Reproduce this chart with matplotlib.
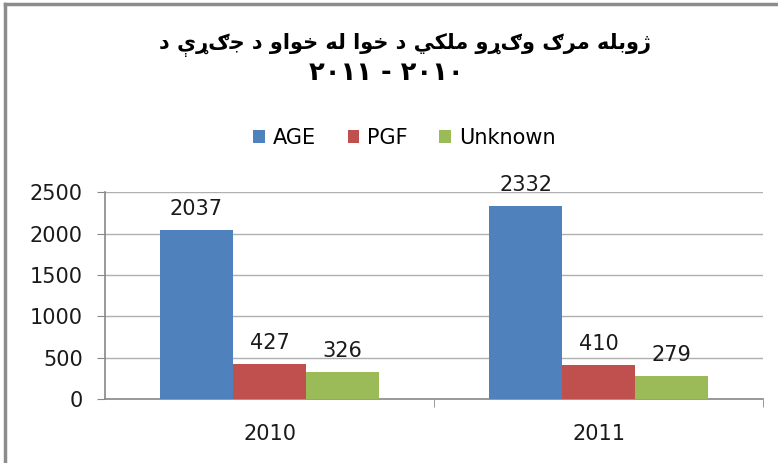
import numpy as np
import matplotlib.pyplot as plt
from matplotlib.lines import Line2D

years = ['2010', '2011']
series = ['AGE', 'PGF', 'Unknown']
age = [2037, 2332]
pgf = [427, 410]
unknown = [326, 279]
colors = ['#4F81BD', '#C0504D', '#9BBB59']

title_line1 = 'د جګړې د خواو له خوا د ملکي وګړو مرګ ژوبله'
title_line2 = '۲۰۱۱ - ۲۰۱۰'  # already in visual order

# matplotlib has no arabic shaping, so pick presentation forms by hand
# (iso, final, initial, medial); two-entry tuples only join to the right
FORMS = {
    'ا': ('\uFE8D', '\uFE8E'),
    'ب': ('\uFE8F', '\uFE90', '\uFE91', '\uFE92'),
    'ج': ('\uFE9D', '\uFE9E', '\uFE9F', '\uFEA0'),
    'خ': ('\uFEA5', '\uFEA6', '\uFEA7', '\uFEA8'),
    'د': ('\uFEA9', '\uFEAA'),
    'ر': ('\uFEAD', '\uFEAE'),
    'ژ': ('\uFB8A', '\uFB8B'),
    'ل': ('\uFEDD', '\uFEDE', '\uFEDF', '\uFEE0'),
    'م': ('\uFEE1', '\uFEE2', '\uFEE3', '\uFEE4'),
    'ه': ('\uFEE9', '\uFEEA', '\uFEEB', '\uFEEC'),
    'و': ('\uFEED', '\uFEEE'),
    'ي': ('\uFEF1', '\uFEF2', '\uFEF3', '\uFEF4'),
    'ک': ('\uFB8E', '\uFB8F', '\uFB90', '\uFB91'),
    'ې': ('\uFBE4', '\uFBE5', '\uFBE6', '\uFBE7'),
    'ګ': ('ګ', 'ګ', 'ګ', 'ګ'),
    'ړ': ('ړ', 'ړ'),
}


def shape_word(word):
    out = []
    for i, ch in enumerate(word):
        if ch not in FORMS:
            out.append(ch)
            continue
        prev = word[i - 1] if i > 0 else ''
        nxt = word[i + 1] if i + 1 < len(word) else ''
        join_prev = prev in FORMS and len(FORMS[prev]) == 4
        join_next = len(FORMS[ch]) == 4 and nxt in FORMS
        f = FORMS[ch]
        if join_prev and join_next:
            out.append(f[3])
        elif join_prev:
            out.append(f[1])
        elif join_next:
            out.append(f[2])
        else:
            out.append(f[0])
    return ''.join(out)[::-1]


# the reference title keeps the words left to right, each word itself right to left
def shape(text):
    return ' '.join(shape_word(wd) for wd in text.split(' '))


plt.rcParams['font.family'] = ['DejaVu Sans']
fs = 15

fig = plt.figure(figsize=(7.78, 4.63), dpi=100)
ax = fig.add_axes([0.135, 0.138, 0.846, 0.447])

x = np.arange(len(years))
w = 1 / 4.5
for i, (vals, name) in enumerate(zip([age, pgf, unknown], series)):
    bars = ax.bar(x + (i - 1) * w, vals, w, color=colors[i], label=name, zorder=3)
    for b, v in zip(bars, vals):
        ax.annotate(str(v), (b.get_x() + b.get_width() / 2, v), xytext=(0, 8),
                    textcoords='offset points', ha='center', va='bottom',
                    fontsize=fs, color='#1a1a1a')

ax.set_xlim(-0.5, 1.5)
ax.set_ylim(0, 2500)
ax.set_yticks(np.arange(0, 2501, 500))
ax.set_xticks(x)
ax.set_xticklabels(years)
ax.set_xticks([0.5, 1.5], minor=True)
ax.tick_params(axis='x', which='major', length=0, pad=18, labelsize=fs, labelcolor='#1a1a1a')
ax.tick_params(axis='x', which='minor', length=6, color='#888888')
ax.tick_params(axis='y', length=6, color='#888888', labelsize=fs, labelcolor='#1a1a1a', pad=10)
ax.grid(axis='y', color='#b0b0b0', linewidth=1, zorder=0)
for s in ['top', 'right']:
    ax.spines[s].set_visible(False)
for s in ['left', 'bottom']:
    ax.spines[s].set_color('#888888')
    ax.spines[s].set_linewidth(1.2)

fig.text(0.521, 0.903, shape(title_line1), ha='center', va='center',
         fontsize=15, fontweight='bold')
fig.text(0.497, 0.842, title_line2, ha='center', va='center',
         fontsize=18.5, fontweight='bold')

fig.legend(loc='center', bbox_to_anchor=(0.52, 0.702), ncol=3, frameon=False,
           fontsize=fs, handlelength=0.55, handleheight=0.55, handletextpad=0.4,
           columnspacing=1.5)

# chart frame (only top and left edges show in the crop)
fig.add_artist(Line2D([0.007, 0.007], [0, 0.991], color='#8c8c8c', linewidth=2.5))
fig.add_artist(Line2D([0.007, 1], [0.991, 0.991], color='#8c8c8c', linewidth=2.5))

fig.savefig('out.png', dpi=100)
